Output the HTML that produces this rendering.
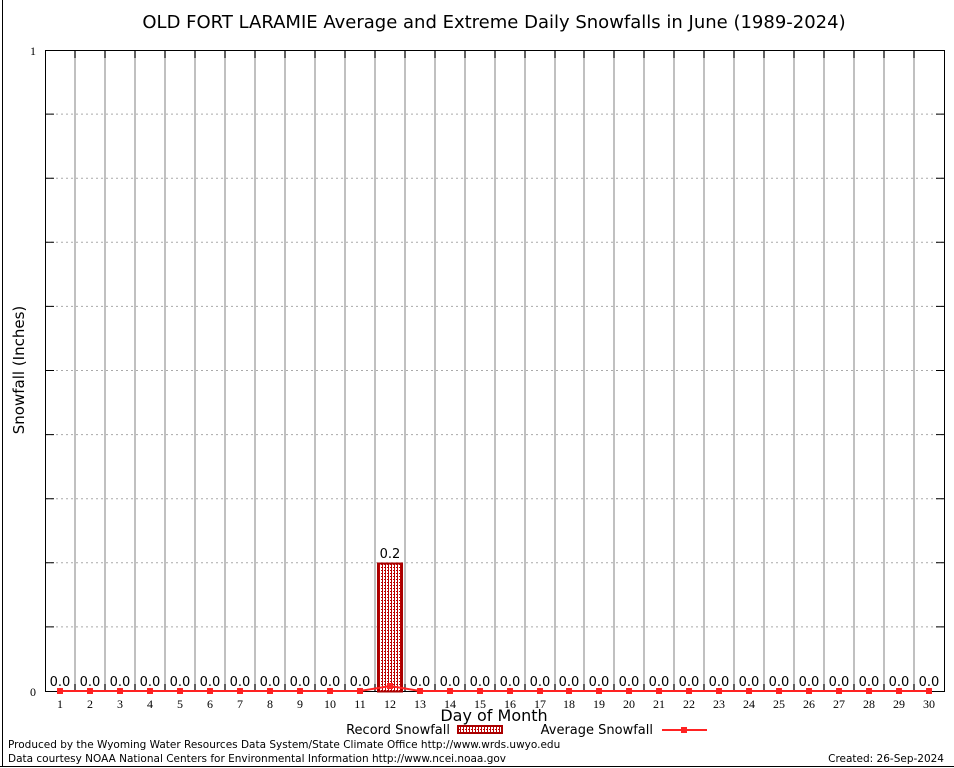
<!DOCTYPE html>
<html><head><style>body{margin:0;background:#fff}svg{display:block}</style></head><body>
<svg width="954" height="768" xmlns="http://www.w3.org/2000/svg" font-family="DejaVu Sans, Liberation Sans, sans-serif">
<defs><pattern id="p" width="3" height="3" patternUnits="userSpaceOnUse"><rect width="3" height="3" fill="#fff"/><rect width="2" height="1" fill="#b00"/><rect x="1" y="1" width="1" height="2" fill="#b00"/></pattern></defs>
<rect x="0" y="0" width="954" height="768" fill="#fff"/>
<line x1="2.5" y1="0" x2="2.5" y2="766" stroke="#000"/>
<line x1="0" y1="766.5" x2="954" y2="766.5" stroke="#000"/>
<text x="494" y="28" font-size="18" text-anchor="middle">OLD FORT LARAMIE Average and Extreme Daily Snowfalls in June (1989-2024)</text>
<path d="M46 626.9H944M46 562.8H944M46 498.7H944M46 434.6H944M46 370.5H944M46 306.4H944M46 242.3H944M46 178.2H944M46 114.1H944" stroke="#aaa" stroke-dasharray="2,3"/>
<path d="M46 626.9h8M46 562.8h8M46 498.7h8M46 434.6h8M46 370.5h8M46 306.4h8M46 242.3h8M46 178.2h8M46 114.1h8M936 626.9h8M936 562.8h8M936 498.7h8M936 434.6h8M936 370.5h8M936 306.4h8M936 242.3h8M936 178.2h8M936 114.1h8" stroke="#000"/>
<path d="M75 51V691M105 51V691M135 51V691M165 51V691M195 51V691M225 51V691M255 51V691M285 51V691M315 51V691M345 51V691M375 51V691M405 51V691M435 51V691M465 51V691M495 51V691M525 51V691M555 51V691M584 51V691M614 51V691M644 51V691M674 51V691M704 51V691M734 51V691M764 51V691M794 51V691M824 51V691M854 51V691M884 51V691M914 51V691" stroke="#c0c0c0" stroke-width="2"/>
<path d="M75 51v7M105 51v7M135 51v7M165 51v7M195 51v7M225 51v7M255 51v7M285 51v7M315 51v7M345 51v7M375 51v7M405 51v7M435 51v7M465 51v7M495 51v7M525 51v7M555 51v7M584 51v7M614 51v7M644 51v7M674 51v7M704 51v7M734 51v7M764 51v7M794 51v7M824 51v7M854 51v7M884 51v7M914 51v7M75 684v7M105 684v7M135 684v7M165 684v7M195 684v7M225 684v7M255 684v7M285 684v7M315 684v7M345 684v7M375 684v7M405 684v7M435 684v7M465 684v7M495 684v7M525 684v7M555 684v7M584 684v7M614 684v7M644 684v7M674 684v7M704 684v7M734 684v7M764 684v7M794 684v7M824 684v7M854 684v7M884 684v7M914 684v7" stroke="#000"/>
<rect x="45.5" y="50.5" width="899" height="641" fill="none" stroke="#000"/>
<text x="36" y="55" font-size="12" text-anchor="end" font-family="Liberation Serif,serif">1</text>
<text x="36" y="696" font-size="12" text-anchor="end" font-family="Liberation Serif,serif">0</text>
<text x="24" y="370" font-size="15" text-anchor="middle" transform="rotate(-90 24 370)">Snowfall (Inches)</text>
<rect x="378" y="563.5" width="24" height="128" fill="url(#p)" stroke="#a00" stroke-width="2"/>
<text x="390" y="558" font-size="13" text-anchor="middle">0.2</text>
<polyline points="60,691 360,691 390,686 420,691 929,691" fill="none" stroke="#f22" stroke-width="2"/>
<path d="M57 688h6v6h-6zM87 688h6v6h-6zM117 688h6v6h-6zM147 688h6v6h-6zM177 688h6v6h-6zM207 688h6v6h-6zM237 688h6v6h-6zM267 688h6v6h-6zM297 688h6v6h-6zM327 688h6v6h-6zM357 688h6v6h-6zM387 683h6v6h-6zM417 688h6v6h-6zM447 688h6v6h-6zM477 688h6v6h-6zM507 688h6v6h-6zM537 688h6v6h-6zM566 688h6v6h-6zM596 688h6v6h-6zM626 688h6v6h-6zM656 688h6v6h-6zM686 688h6v6h-6zM716 688h6v6h-6zM746 688h6v6h-6zM776 688h6v6h-6zM806 688h6v6h-6zM836 688h6v6h-6zM866 688h6v6h-6zM896 688h6v6h-6zM926 688h6v6h-6z" fill="#f22"/>
<g font-size="13" text-anchor="middle">
<text x="60" y="686">0.0</text><text x="90" y="686">0.0</text><text x="120" y="686">0.0</text><text x="150" y="686">0.0</text><text x="180" y="686">0.0</text><text x="210" y="686">0.0</text><text x="240" y="686">0.0</text><text x="270" y="686">0.0</text><text x="300" y="686">0.0</text><text x="330" y="686">0.0</text><text x="360" y="686">0.0</text><text x="420" y="686">0.0</text><text x="450" y="686">0.0</text><text x="480" y="686">0.0</text><text x="510" y="686">0.0</text><text x="540" y="686">0.0</text><text x="569" y="686">0.0</text><text x="599" y="686">0.0</text><text x="629" y="686">0.0</text><text x="659" y="686">0.0</text><text x="689" y="686">0.0</text><text x="719" y="686">0.0</text><text x="749" y="686">0.0</text><text x="779" y="686">0.0</text><text x="809" y="686">0.0</text><text x="839" y="686">0.0</text><text x="869" y="686">0.0</text><text x="899" y="686">0.0</text><text x="929" y="686">0.0</text>
</g>
<g font-size="12" text-anchor="middle" font-family="Liberation Serif,serif">
<text x="60" y="708">1</text><text x="90" y="708">2</text><text x="120" y="708">3</text><text x="150" y="708">4</text><text x="180" y="708">5</text><text x="210" y="708">6</text><text x="240" y="708">7</text><text x="270" y="708">8</text><text x="300" y="708">9</text><text x="330" y="708">10</text><text x="360" y="708">11</text><text x="390" y="708">12</text><text x="420" y="708">13</text><text x="450" y="708">14</text><text x="480" y="708">15</text><text x="510" y="708">16</text><text x="540" y="708">17</text><text x="569" y="708">18</text><text x="599" y="708">19</text><text x="629" y="708">20</text><text x="659" y="708">21</text><text x="689" y="708">22</text><text x="719" y="708">23</text><text x="749" y="708">24</text><text x="779" y="708">25</text><text x="809" y="708">26</text><text x="839" y="708">27</text><text x="869" y="708">28</text><text x="899" y="708">29</text><text x="929" y="708">30</text>
</g>
<text x="494" y="721" font-size="16" text-anchor="middle">Day of Month</text>
<text x="450" y="734" font-size="13" text-anchor="end">Record Snowfall</text>
<rect x="458" y="726" width="44" height="7" fill="url(#p)" stroke="#a00" stroke-width="2"/>
<text x="653" y="734" font-size="13" text-anchor="end">Average Snowfall</text>
<line x1="662" y1="730" x2="707" y2="730" stroke="#f22" stroke-width="2"/>
<rect x="681" y="727" width="6" height="6" fill="#f22"/>
<text x="8" y="748" font-size="10.5">Produced by the Wyoming Water Resources Data System/State Climate Office http://www.wrds.uwyo.edu</text>
<text x="8" y="762" font-size="10.5">Data courtesy NOAA National Centers for Environmental Information http://www.ncei.noaa.gov</text>
<text x="944" y="762" font-size="10.5" text-anchor="end">Created:  26-Sep-2024</text>
</svg>
</body></html>
